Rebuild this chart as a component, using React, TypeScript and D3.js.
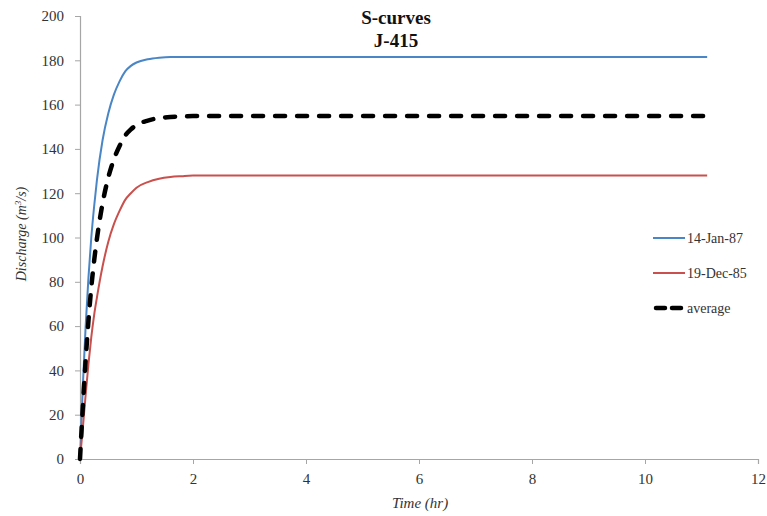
import React, { useEffect, useRef } from "react";
import * as d3 from "d3";

// Time (hr) sample points shared by every series
const timeHr = [
  0, 0.05, 0.1, 0.15, 0.2, 0.25, 0.3, 0.4, 0.5, 0.6, 0.7, 0.8, 0.9, 1.0, 1.2,
  1.4, 1.6, 1.8, 2.0, 3, 4, 5, 6, 7, 8, 9, 10, 11.1,
];

// Discharge (m³/s) for the storm of 14-Jan-87
const jan87 = [
  0, 33, 60, 82, 100, 114, 126, 144, 156, 164.5, 170.5, 175, 177.5, 179, 180.5,
  181.2, 181.5, 181.5, 181.5, 181.5, 181.5, 181.5, 181.5, 181.5, 181.5, 181.5,
  181.5, 181.5,
];

// Discharge (m³/s) for the storm of 19-Dec-85
const dec85 = [
  0, 14, 29, 43, 55, 65, 73, 87, 98, 106, 112, 117, 120, 122.5, 125, 126.5,
  127.3, 127.7, 128, 128, 128, 128, 128, 128, 128, 128, 128, 128,
];

// Average S-curve
const average = [
  0, 23.5, 44.5, 62.5, 77.5, 89.5, 99.5, 115.5, 127, 135.3, 141.3, 146, 148.8,
  150.8, 152.8, 153.9, 154.4, 154.6, 154.8, 154.8, 154.8, 154.8, 154.8, 154.8,
  154.8, 154.8, 154.8, 154.8,
];

const xTicks = [0, 2, 4, 6, 8, 10, 12];
const yTicks = [0, 20, 40, 60, 80, 100, 120, 140, 160, 180, 200];

const seriesNames = ["14-Jan-87", "19-Dec-85", "average"];
const seriesValues = [jan87, dec85, average];

const W = 767;
const H = 516;
const FONT = "'Liberation Serif', Tinos, 'Noto Serif', FreeSerif, 'Nimbus Roman', Times, serif";
const AXIS_COLOR = "#a6a6a6";

const styles = [
  { stroke: "#4a86c5", width: 2, dash: null as string | null, cap: "butt" },
  { stroke: "#c9504c", width: 2, dash: null as string | null, cap: "butt" },
  { stroke: "#000000", width: 4.5, dash: "10,12", cap: "round" },
];

export default function App() {
  const ref = useRef<SVGSVGElement | null>(null);

  useEffect(() => {
    const svg = d3.select(ref.current);
    svg.selectAll("*").remove();

    const x = d3.scaleLinear().domain([0, 12]).range([80, 758]);
    const y = d3.scaleLinear().domain([0, 200]).range([459, 16]);

    // x axis
    const gx = svg
      .append("g")
      .attr("transform", `translate(0,${y(0)})`)
      .call(d3.axisBottom(x).tickValues(xTicks).tickSize(5).tickPadding(9).tickFormat(d3.format("d")))
      .attr("font-family", FONT)
      .attr("font-size", 15);
    gx.select(".domain").attr("stroke", AXIS_COLOR).attr("stroke-width", 1.2);
    gx.selectAll(".tick line").attr("stroke", AXIS_COLOR);
    gx.selectAll(".tick text").attr("fill", "#333");

    // y axis
    const gy = svg
      .append("g")
      .attr("transform", `translate(${x(0)},0)`)
      .call(d3.axisLeft(y).tickValues(yTicks).tickSize(5).tickPadding(11).tickFormat(d3.format("d")))
      .attr("font-family", FONT)
      .attr("font-size", 15);
    gy.select(".domain").attr("stroke", AXIS_COLOR).attr("stroke-width", 1.2);
    gy.selectAll(".tick line").attr("stroke", AXIS_COLOR);
    gy.selectAll(".tick text").attr("fill", "#333");

    // curves
    const line = d3
      .line<number>()
      .x((_, i) => x(timeHr[i]))
      .y((d) => y(d))
      .curve(d3.curveMonotoneX);

    [0, 1, 2].forEach((k) => {
      const st = styles[k];
      const p = svg
        .append("path")
        .datum(seriesValues[k])
        .attr("d", line)
        .attr("fill", "none")
        .attr("stroke", st.stroke)
        .attr("stroke-width", st.width)
        .attr("stroke-linecap", st.cap)
        .attr("stroke-linejoin", "round");
      if (st.dash) p.attr("stroke-dasharray", st.dash);
    });

    // title
    const title = svg
      .append("text")
      .attr("text-anchor", "middle")
      .attr("font-family", FONT)
      .attr("font-weight", "bold")
      .attr("font-size", 19)
      .attr("fill", "#111");
    title.append("tspan").attr("x", 396).attr("y", 24).text("S-curves");
    title.append("tspan").attr("x", 396).attr("y", 47).text("J-415");

    // axis titles
    svg
      .append("text")
      .attr("x", 420)
      .attr("y", 508)
      .attr("text-anchor", "middle")
      .attr("font-family", FONT)
      .attr("font-style", "italic")
      .attr("font-size", 15)
      .attr("fill", "#333")
      .text("Time (hr)");

    const yl = svg
      .append("text")
      .attr("transform", "translate(26,234) rotate(-90)")
      .attr("text-anchor", "middle")
      .attr("font-family", FONT)
      .attr("font-style", "italic")
      .attr("font-size", 14)
      .attr("fill", "#333");
    yl.append("tspan").text("Discharge (m");
    yl.append("tspan").attr("baseline-shift", "super").attr("font-size", 9).text("3");
    yl.append("tspan").text("/s)");

    // legend
    const legend = svg.append("g");
    seriesNames.forEach((name, i) => {
      const st = styles[i];
      const ly = 238 + i * 35;
      const l = legend
        .append("line")
        .attr("x1", i === 2 ? 656 : 653)
        .attr("x2", i === 2 ? 683 : 685)
        .attr("y1", ly)
        .attr("y2", ly)
        .attr("stroke", st.stroke)
        .attr("stroke-width", st.width)
        .attr("stroke-linecap", st.cap);
      if (st.dash) l.attr("stroke-dasharray", "9,7");
      legend
        .append("text")
        .attr("x", 687)
        .attr("y", ly + 5)
        .attr("font-family", FONT)
        .attr("font-size", 14)
        .attr("fill", "#333")
        .text(name);
    });
  }, []);

  return (
    <svg
      ref={ref}
      width={W}
      height={H}
      style={{ position: "absolute", left: 0, top: 0, background: "#fff" }}
    />
  );
}
